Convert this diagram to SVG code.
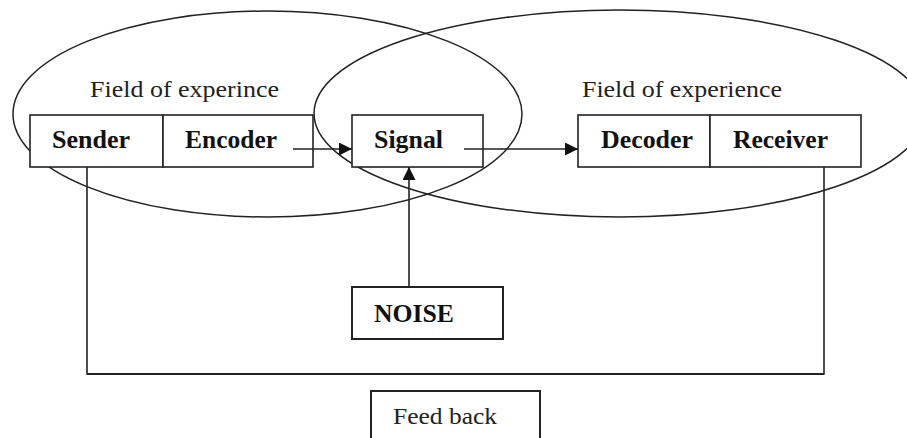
<svg xmlns="http://www.w3.org/2000/svg" width="907" height="438" viewBox="0 0 907 438">
<defs>
<style>
.bg{fill:#fff}
.field{fill:none;stroke:#222;stroke-width:1.5}
.box{fill:#fff;stroke:#222;stroke-width:1.6}
.lbl{font-size:26px;font-weight:bold;fill:#111}
.reg{font-size:24px;fill:#222}
.conn{fill:none;stroke:#222;stroke-width:1.6}
.thick{fill:none;stroke:#222;stroke-width:2.2}
</style>
<marker id="arr" viewBox="0 0 10 10" refX="10" refY="5" markerWidth="16" markerHeight="13" markerUnits="userSpaceOnUse" orient="auto">
<path d="M0,0 L10,5 L0,10 Z" fill="#111"/>
</marker>
</defs>
<rect class="bg" x="0" y="0" width="907" height="438"/>
<g id="fields" font-family="Liberation Serif, serif">
<ellipse class="field" cx="267.5" cy="114" rx="254.5" ry="103"/>
<ellipse class="field" cx="619.5" cy="113.5" rx="305.5" ry="103.5"/>
<text class="reg" x="90" y="97" textLength="189" lengthAdjust="spacingAndGlyphs">Field of experince</text>
<text class="reg" x="582" y="97" textLength="200" lengthAdjust="spacingAndGlyphs">Field of experience</text>
</g>
<g id="sender" font-family="Liberation Serif, serif">
<rect class="box" x="30" y="115" width="133" height="52"/>
<text class="lbl" x="52" y="148" textLength="78" lengthAdjust="spacingAndGlyphs">Sender</text>
</g>
<g id="encoder" font-family="Liberation Serif, serif">
<rect class="box" x="163" y="115" width="150" height="52"/>
<text class="lbl" x="185" y="148" textLength="92" lengthAdjust="spacingAndGlyphs">Encoder</text>
</g>
<g id="signal" font-family="Liberation Serif, serif">
<rect class="box" x="352" y="115" width="131" height="52"/>
<text class="lbl" x="374" y="148" textLength="69" lengthAdjust="spacingAndGlyphs">Signal</text>
</g>
<g id="decoder" font-family="Liberation Serif, serif">
<rect class="box" x="578" y="115" width="132" height="52"/>
<text class="lbl" x="601" y="148" textLength="92" lengthAdjust="spacingAndGlyphs">Decoder</text>
</g>
<g id="receiver" font-family="Liberation Serif, serif">
<rect class="box" x="710" y="115" width="151" height="52"/>
<text class="lbl" x="733" y="148" textLength="95" lengthAdjust="spacingAndGlyphs">Receiver</text>
</g>
<g id="noise" font-family="Liberation Serif, serif">
<rect class="box" x="352" y="287" width="151" height="52" style="stroke-width:2"/>
<text class="lbl" x="374" y="322" textLength="80" lengthAdjust="spacingAndGlyphs">NOISE</text>
</g>
<g id="feedback" font-family="Liberation Serif, serif">
<rect class="box" x="371" y="391" width="169" height="60" style="stroke-width:2"/>
<text class="reg" x="393" y="424" textLength="104" lengthAdjust="spacingAndGlyphs">Feed back</text>
</g>
<g id="connectors">
<line class="conn" x1="293" y1="149" x2="352" y2="149" marker-end="url(#arr)"/>
<line class="conn" x1="464" y1="149" x2="578" y2="149" marker-end="url(#arr)"/>
<line class="conn" x1="409" y1="287" x2="409" y2="167" marker-end="url(#arr)"/>
<polyline class="conn" points="87,167 87,374 824,374 824,167"/>
<line class="thick" x1="87" y1="374" x2="824" y2="374"/>
</g>
</svg>
